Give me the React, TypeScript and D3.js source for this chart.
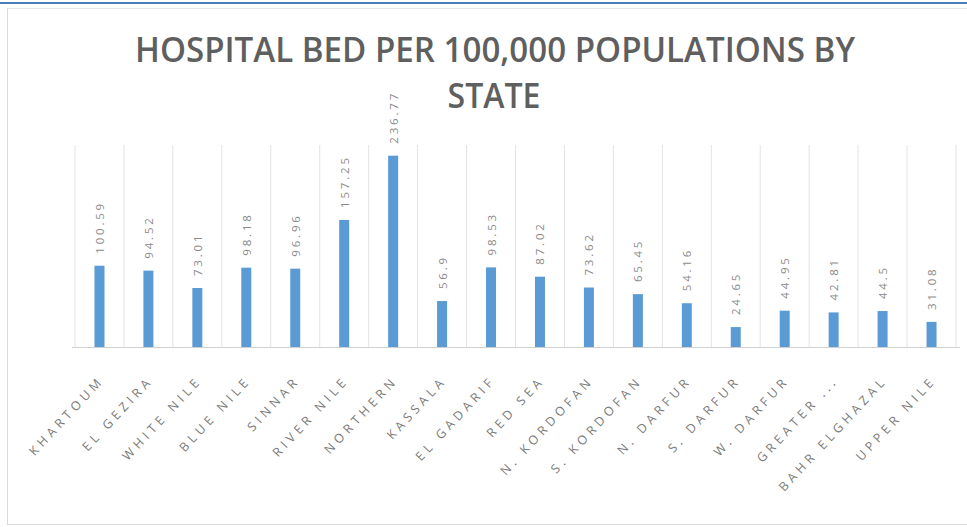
import React from "react";
import * as d3 from "d3";

const categories = [
  "KHARTOUM", "EL GEZIRA", "WHITE NILE", "BLUE NILE", "SINNAR", "RIVER NILE",
  "NORTHERN", "KASSALA", "EL GADARIF", "RED SEA", "N. KORDOFAN", "S. KORDOFAN",
  "N. DARFUR", "S. DARFUR", "W. DARFUR", "GREATER ...", "BAHR ELGHAZAL", "UPPER NILE",
];
const values = [
  100.59, 94.52, 73.01, 98.18, 96.96, 157.25, 236.77, 56.9, 98.53, 87.02,
  73.62, 65.45, 54.16, 24.65, 44.95, 42.81, 44.5, 31.08,
];
const valueLabels = [
  "100.59", "94.52", "73.01", "98.18", "96.96", "157.25", "236.77", "56.9", "98.53",
  "87.02", "73.62", "65.45", "54.16", "24.65", "44.95", "42.81", "44.5", "31.08",
];
const titleLines = ["HOSPITAL BED PER 100,000 POPULATIONS BY", "STATE"];

const W = 967;
const H = 527;

export default function App() {
  const x = d3.scaleBand<string>().domain(categories).range([75, 956]).padding(0);
  const y = d3.scaleLinear().domain([0, 250]).range([347, 145]);
  const bw = x.bandwidth();
  const barW = 10;
  const edges = categories.map((c) => x(c)!).concat([x(categories[categories.length - 1])! + bw]);

  return (
    <div style={{ position: "absolute", left: 0, top: 0 }}>
      <svg width={W} height={H} style={{ display: "block", background: "#fff" }}>
        <rect x={0} y={0} width={W} height={H} fill="#fff" />
        {/* frame */}
        <line x1={0} x2={W} y1={3} y2={3} stroke="#4a7ebb" strokeWidth={2} />
        <line x1={7} x2={W} y1={8.5} y2={8.5} stroke="#e6e6e6" strokeWidth={1} />
        <line x1={7.5} x2={7.5} y1={8} y2={524} stroke="#d9d9d9" strokeWidth={1} />
        <line x1={7} x2={W} y1={524.5} y2={524.5} stroke="#d9d9d9" strokeWidth={1} />

        {/* title */}
        <text x={495} y={62} textAnchor="middle" fontFamily="'Open Sans', sans-serif" fontSize={34}
          fontWeight={600} fill="#5f5f5f" textLength={720} lengthAdjust="spacingAndGlyphs">{titleLines[0]}</text>
        <text x={494} y={108} textAnchor="middle" fontFamily="'Open Sans', sans-serif" fontSize={34}
          fontWeight={600} fill="#5f5f5f" textLength={93} lengthAdjust="spacingAndGlyphs">{titleLines[1]}</text>

        {/* gridlines */}
        {edges.map((e, i) => (
          <line key={"g" + i} x1={e} x2={e} y1={y(250)} y2={y(0)} stroke="#e3e3e3" strokeWidth={1} />
        ))}
        <line x1={72} x2={960} y1={y(0) + 0.5} y2={y(0) + 0.5} stroke="#d0d0d0" strokeWidth={1} />

        {/* bars */}
        {categories.map((c, i) => {
          const cx = x(c)! + bw / 2;
          return (
            <rect key={"b" + i} x={cx - barW / 2} y={y(values[i])} width={barW}
              height={y(0) - y(values[i])} fill="#5b9bd5" />
          );
        })}

        {/* value labels */}
        {categories.map((c, i) => {
          const cx = x(c)! + bw / 2;
          const ty = y(values[i]) - 12;
          return (
            <text key={"v" + i} transform={`translate(${cx},${ty}) rotate(-90)`}
              textAnchor="start" dominantBaseline="central" fontFamily="'Open Sans', sans-serif"
              fontSize={11.5} letterSpacing={2.8} fill="#8a8a8a">{valueLabels[i]}</text>
          );
        })}

        {/* category labels */}
        {categories.map((c, i) => {
          const cx = x(c)! + bw / 2;
          return (
            <text key={"c" + i} transform={`translate(${cx + 2},${378}) rotate(-47)`}
              textAnchor="end" dominantBaseline="central" fontFamily="'Open Sans', sans-serif"
              fontSize={12.5} letterSpacing={4.2} fill="#7a7a7a">{c}</text>
          );
        })}
      </svg>
    </div>
  );
}
